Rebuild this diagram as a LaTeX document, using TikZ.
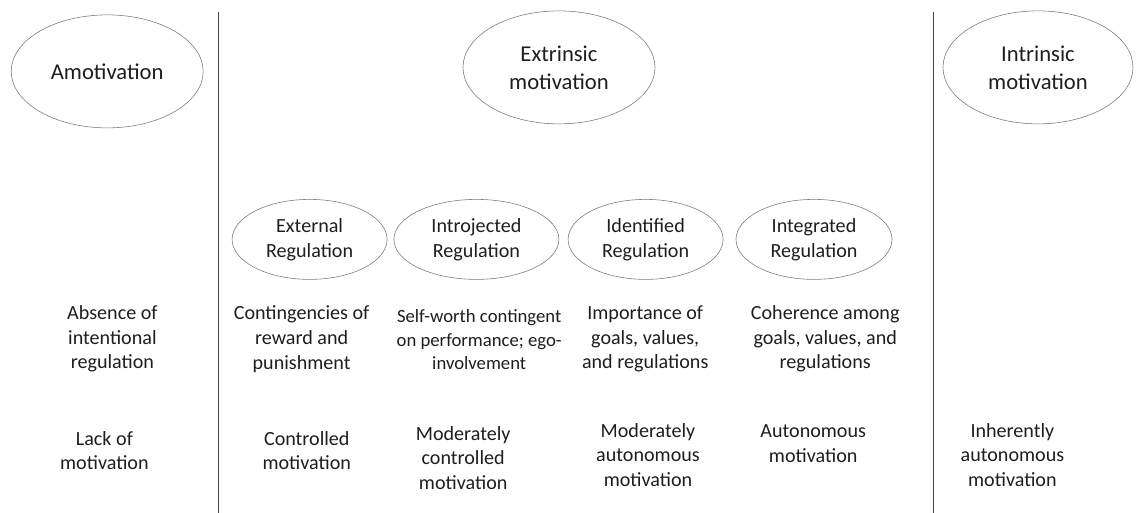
\documentclass[tikz,border=0pt]{standalone}
\usepackage{fontspec}
\setmainfont{Carlito}
\definecolor{rimgray}{RGB}{120, 120, 120}
\definecolor{linegray}{RGB}{70, 70, 70}
\definecolor{inkgray}{RGB}{30, 30, 30}
\usepackage{tikz}
\usetikzlibrary{shapes.geometric}

\begin{document}
\begin{tikzpicture}[
  bigoval/.style={draw=rimgray, ellipse, inner sep=0pt, minimum width=4.8cm, minimum height=2.825cm,
    align=center, text=inkgray, font=\fontsize{16.1}{20}\selectfont},
  smalloval/.style={draw=rimgray, ellipse, inner sep=0pt, minimum width=3.9cm, minimum height=2cm,
    align=center, text=inkgray, font=\fontsize{14.3}{17.6}\selectfont},
  desc/.style={align=center, inner sep=0pt, text=inkgray, font=\fontsize{14.3}{17.6}\selectfont},
  sepline/.style={draw=linegray, line width=0.7pt}
]
  \useasboundingbox (0, 0) rectangle (28.4, 12.825);

  % Separators
  \coordinate (septopA) at (5.46, 12.525);
  \coordinate (sepbotA) at (5.46, 0);
  \coordinate (septopB) at (23.34, 12.525);
  \coordinate (sepbotB) at (23.34, 0);
  \draw[sepline] (septopA) -- (sepbotA);
  \draw[sepline] (septopB) -- (sepbotB);

  % Main types
  \node[bigoval] (amot) at (2.68, 11.04) {Amotivation};
  \node[bigoval] (extr) at (13.975, 11.14) {Extrinsic\\motivation};
  \node[bigoval, minimum width=4.75cm] (intr) at (25.95, 11.14) {Intrinsic\\motivation};

  % Regulation styles
  \node[smalloval, minimum width=3.875cm] (ext) at (7.74, 6.84) {External\\Regulation};
  \node[smalloval, minimum width=4.125cm] (intro) at (11.91, 6.84) {Introjected\\Regulation};
  \node[smalloval, minimum width=3.875cm] (ident) at (16.14, 6.84) {Identified\\Regulation};
  \node[smalloval] (integ) at (20.35, 6.84) {Integrated\\Regulation};

  % Processes
  \node[desc] (absence) at (2.81, 4.35) {Absence of\\intentional\\regulation};
  \node[desc] (conting) at (7.54, 4.35) {Contingencies of\\reward and\\punishment};
  \node[desc, font=\fontsize{13.3}{16.6}\selectfont] (selfworth) at (11.98, 4.33) {Self-worth contingent\\on performance; ego-\\involvement};
  \node[desc] (import) at (16.13, 4.35) {Importance of\\goals, values,\\and regulations};
  \node[desc] (cohere) at (20.63, 4.35) {Coherence among\\goals, values, and\\regulations};

  % Quality of motivation
  \node[desc] (lack) at (2.61, 1.56) {Lack of\\motivation};
  \node[desc] (contr) at (7.67, 1.56) {Controlled\\motivation};
  \node[desc] (modcontr) at (11.58, 1.375) {Moderately\\controlled\\motivation};
  \node[desc] (modauto) at (16.2, 1.45) {Moderately\\autonomous\\motivation};
  \node[desc] (auto) at (20.33, 1.74) {Autonomous\\motivation};
  \node[desc] (inher) at (25.31, 1.45) {Inherently\\autonomous\\motivation};
\end{tikzpicture}
\end{document}
